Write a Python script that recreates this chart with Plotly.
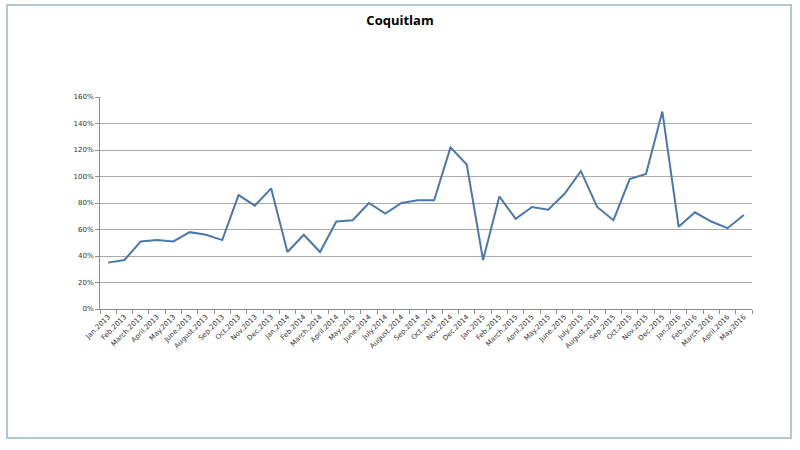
import plotly.graph_objects as go

months = ["Jan.2013", "Feb.2013", "March.2013", "April.2013", "May.2013", "June.2013",
          "August.2013", "Sep.2013", "Oct.2013", "Nov.2013", "Dec.2013",
          "Jan.2014", "Feb.2014", "March.2014", "April.2014", "May.2015", "June.2014",
          "July.2014", "August.2014", "Sep.2014", "Oct.2014", "Nov.2014", "Dec.2014",
          "Jan.2015", "Feb.2015", "March.2015", "April.2015", "May.2015", "June.2015",
          "July.2015", "August.2015", "Sep.2015", "Oct.2015", "Nov.2015", "Dec.2015",
          "Jan.2016", "Feb.2016", "March.2016", "April.2016", "May.2016"]

values = [0.35, 0.37, 0.51, 0.52, 0.51, 0.58, 0.56, 0.52, 0.86, 0.78, 0.91,
          0.43, 0.56, 0.43, 0.66, 0.67, 0.80, 0.72, 0.80, 0.82, 0.82, 1.22, 1.09,
          0.37, 0.85, 0.68, 0.77, 0.75, 0.87, 1.04, 0.77, 0.67, 0.98, 1.02, 1.49,
          0.62, 0.73, 0.66, 0.61, 0.71]

y_ticks = [0, 0.2, 0.4, 0.6, 0.8, 1.0, 1.2, 1.4, 1.6]

x_pos = list(range(len(months)))

fig = go.Figure()
fig.add_trace(go.Scatter(
    x=x_pos, y=values, mode="lines",
    line=dict(color="#4a78ac", width=2),
    showlegend=False,
))

fig.update_layout(
    width=800, height=450,
    paper_bgcolor="white", plot_bgcolor="white",
    margin=dict(l=100, r=48, t=97, b=141),
    title=dict(text="<b>Coquitlam</b>", x=0.5, xanchor="center", y=0.9556, yanchor="middle",
               font=dict(family="Open Sans", size=13, color="#000000")),
    font=dict(family="DejaVu Sans", size=7, color="#333333"),
    xaxis=dict(
        range=[-0.5, len(months) - 0.5],
        tickmode="array", tickvals=x_pos, ticktext=months,
        tickangle=-45, ticks="", showgrid=False, zeroline=False,
        showline=True, linecolor="#8c8c8c", linewidth=1,
        tickfont=dict(family="DejaVu Sans", size=7, color="#333333"),
        minor=dict(ticks="outside", ticklen=4, tickcolor="#8c8c8c", tick0=-0.5, dtick=1, showgrid=False),
    ),
    yaxis=dict(
        range=[0, 1.6], tickmode="array", tickvals=y_ticks, tickformat=".0%",
        ticks="outside", ticklen=4, tickcolor="#8c8c8c",
        showgrid=True, gridcolor="#aaaaaa", gridwidth=1, zeroline=False,
        showline=True, linecolor="#8c8c8c", linewidth=1,
        tickfont=dict(family="DejaVu Sans", size=7, color="#333333"),
    ),
    shapes=[
        dict(type="rect", xref="paper", yref="paper",
             x0=-0.1426, x1=1.0598, y0=-0.6085, y1=1.434,
             line=dict(color="#b4c8d2", width=2), fillcolor="rgba(0,0,0,0)", layer="below"),
    ],
)

fig.write_html("out.html", config={"displayModeBar": False},
               post_script="document.body.style.margin='0';")
